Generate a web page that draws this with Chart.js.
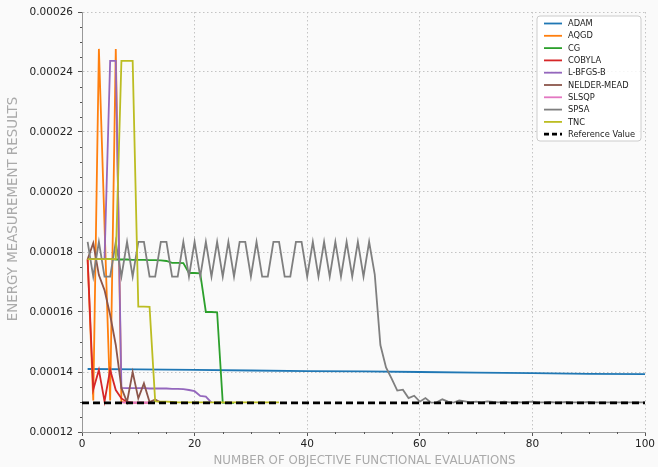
<!DOCTYPE html>
<html><head><meta charset="utf-8">
<script src="https://cdn.jsdelivr.net/npm/chart.js@4.4.0/dist/chart.umd.min.js"></script>
<style>html,body{margin:0;padding:0;background:#fafafa;overflow:hidden}#wrap{width:658px;height:467px;position:relative}</style>
</head><body><div id="wrap"><canvas id="c" width="658" height="467"></canvas></div>
<script>
// ---------- DATA ----------
const seriesNames = ['ADAM','AQGD','CG','COBYLA','L-BFGS-B','NELDER-MEAD','SLSQP','SPSA','TNC'];
const refLabel = 'Reference Value';
const xTicks = [0,20,40,60,80,100];
const yTicks = [0.00012,0.00014,0.00016,0.00018,0.00020,0.00022,0.00024,0.00026];

const adamEvals = [1,10,20,30,40,50,60,70,80,90,100];
const adam = [0.0001410,0.0001409,0.0001407,0.0001405,0.0001403,0.0001402,0.0001400,0.0001398,0.0001396,0.0001394,0.0001393];
const aqgd = [0.0001776,0.0001305,0.0002477,0.0001890,0.0001305,0.0002477,0.0001300,0.0001298];
const cg = [0.0001777,0.0001777,0.0001776,0.0001776,0.0001776,0.0001775,0.0001775,0.0001775,0.0001774,0.0001774,
            0.0001774,0.0001773,0.0001773,0.0001772,0.0001770,0.0001764,0.0001764,0.0001763,0.0001730,0.0001730,
            0.0001729,0.0001600,0.0001600,0.0001599,0.0001298,0.0001297,0.0001297];
const cobyla = [0.0001776,0.0001342,0.0001407,0.0001302,0.0001407,0.0001340,0.0001312,0.0001300,0.0001298,0.0001298,0.0001298,0.0001298];
const lbfgsb = [0.0001776,0.0001776,0.0001776,0.0001776,0.0002437,0.0002437,0.0001347,0.0001346,0.0001346,0.0001346,
                0.0001346,0.0001345,0.0001345,0.0001345,0.0001345,0.0001344,0.0001344,0.0001343,0.0001340,0.0001336,
                0.0001320,0.0001318,0.0001298];
const nelder = [0.0001776,0.0001830,0.0001723,0.0001673,0.0001590,0.0001490,0.0001347,0.0001300,0.0001400,0.0001312,
                0.0001362,0.0001300,0.0001308,0.0001298];
const slsqpEvals = [7,8,9,10,11,12];
const slsqp = [0.0001299,0.0001298,0.0001298,0.0001298,0.0001298,0.0001298];
const spsa = [0.0001834,0.0001718,0.0001834,0.0001718,0.0001718,0.0001834,0.0001718,0.0001834,0.0001718,0.0001834,
              0.0001834,0.0001718,0.0001718,0.0001834,0.0001834,0.0001718,0.0001718,0.0001834,0.0001718,0.0001834,
              0.0001718,0.0001834,0.0001718,0.0001834,0.0001718,0.0001834,0.0001718,0.0001834,0.0001834,0.0001718,
              0.0001834,0.0001718,0.0001718,0.0001834,0.0001834,0.0001718,0.0001718,0.0001834,0.0001834,0.0001718,
              0.0001834,0.0001718,0.0001834,0.0001718,0.0001834,0.0001718,0.0001834,0.0001718,0.0001834,0.0001718,
              0.0001834,0.0001725,0.0001490,0.0001415,0.0001378,0.0001338,0.0001341,0.0001313,0.0001321,0.0001301,
              0.0001313,0.0001298,0.0001299,0.0001309,0.0001301,0.0001298,0.0001305,0.0001302,0.0001299,0.0001301,
              0.0001299,0.0001302,0.0001300,0.0001299,0.0001301,0.0001299,0.0001300,0.0001299,0.0001300,0.0001301,
              0.0001299,0.0001299,0.0001300,0.0001299,0.0001299,0.0001300,0.0001299,0.0001299,0.0001299,0.0001300,
              0.0001299,0.0001299,0.0001299,0.0001299,0.0001299,0.0001299,0.0001299,0.0001299,0.0001299,0.0001299];
const tnc = [0.0001776,0.0001776,0.0001776,0.0001776,0.0001776,0.0001776,0.0002437,0.0002437,0.0002437,0.0001618,
             0.0001618,0.0001617,0.0001302,0.0001301,0.0001301,0.0001300,0.0001299,0.0001299,0.0001299,0.0001299,
             0.0001299,0.0001299,0.0001299,0.0001299,0.0001299,0.0001299,0.0001299,0.0001299,0.0001299,0.0001299,
             0.0001299,0.0001299,0.0001299,0.0001299,0.0001299];
const refEvals = [0,100];
const refValue = [0.0001297,0.0001297];

// ---------- STYLE ----------
const colors = ['#1f77b4','#ff7f0e','#2ca02c','#d62728','#9467bd','#8c564b','#e377c2','#7f7f7f','#bcbd22'];
const FONT = 'DejaVu Sans';

function pts(xs, ys){ return ys.map((v,i)=>({x: xs ? xs[i] : i+1, y: v})); }
const seriesData = [pts(adamEvals,adam), pts(null,aqgd), pts(null,cg), pts(null,cobyla), pts(null,lbfgsb),
                    pts(null,nelder), pts(slsqpEvals,slsqp), pts(null,spsa), pts(null,tnc)];

const N = seriesNames.length;
const datasets = seriesNames.map((n,i)=>({
  label:n, data:seriesData[i], borderColor:colors[i], backgroundColor:colors[i],
  borderWidth:1.8, pointRadius:0, fill:false, tension:0, order: N - i + 1
}));
datasets.push({label:refLabel, data:pts(refEvals,refValue), borderColor:'#000', borderWidth:2.8,
  borderDash:[7,4], pointRadius:0, fill:false, order:0});

const yMinor = 0.000005, xMinor = 5;

const extras = {
  id:'extras',
  beforeDraw(chart){
    const ctx = chart.ctx; ctx.save(); ctx.fillStyle='#fafafa'; ctx.fillRect(0,0,chart.width,chart.height); ctx.restore();
  },
  afterDraw(chart){
    const ctx = chart.ctx, a = chart.chartArea, xs = chart.scales.x, ys = chart.scales.y;
    ctx.save();
    // minor ticks
    ctx.strokeStyle = '#555'; ctx.lineWidth = 1;
    for(let i=0;i<=28;i++){ if(i%4===0) continue;
      const py = Math.round(ys.getPixelForValue(yTicks[0] + i*yMinor)) + 0.5;
      ctx.beginPath(); ctx.moveTo(a.left-2, py); ctx.lineTo(a.left, py); ctx.stroke(); }
    for(let i=0;i<=20;i++){ if(i%4===0) continue;
      const px = Math.round(xs.getPixelForValue(i*xMinor)) + 0.5;
      ctx.beginPath(); ctx.moveTo(px, a.bottom); ctx.lineTo(px, a.bottom+2); ctx.stroke(); }
    // axis titles
    ctx.fillStyle = '#aaaaaa';
    ctx.textAlign='center'; ctx.textBaseline='middle';
    ctx.font = '11.8px "'+FONT+'"';
    ctx.fillText('NUMBER OF OBJECTIVE FUNCTIONAL EVALUATIONS', (a.left+a.right)/2 + 1, 461);
    ctx.font = '13.4px "'+FONT+'"';
    ctx.save(); ctx.translate(13.5, 209); ctx.rotate(-Math.PI/2);
    ctx.fillText('ENERGY MEASUREMENT RESULTS', 0, 0); ctx.restore();
    // legend
    const lx = 537, ly = 16, lw = 104, lh = 125, r = 3;
    ctx.beginPath();
    ctx.moveTo(lx+r,ly); ctx.lineTo(lx+lw-r,ly); ctx.quadraticCurveTo(lx+lw,ly,lx+lw,ly+r);
    ctx.lineTo(lx+lw,ly+lh-r); ctx.quadraticCurveTo(lx+lw,ly+lh,lx+lw-r,ly+lh);
    ctx.lineTo(lx+r,ly+lh); ctx.quadraticCurveTo(lx,ly+lh,lx,ly+lh-r);
    ctx.lineTo(lx,ly+r); ctx.quadraticCurveTo(lx,ly,lx+r,ly); ctx.closePath();
    ctx.fillStyle='rgba(255,255,255,0.85)'; ctx.fill();
    ctx.strokeStyle='#cccccc'; ctx.lineWidth=1; ctx.stroke();
    ctx.font = '8.3px "'+FONT+'"'; ctx.textAlign='left'; ctx.textBaseline='middle';
    chart.data.datasets.forEach((d,k)=>{
      const yy = 23.5 + k*12.3;
      ctx.beginPath(); ctx.strokeStyle = d.borderColor; ctx.lineWidth = d.borderWidth;
      ctx.setLineDash(d.borderDash ? [5,3] : []);
      ctx.moveTo(544, yy); ctx.lineTo(562, yy); ctx.stroke(); ctx.setLineDash([]);
      ctx.fillStyle='#222'; ctx.fillText(d.label, 568, yy+0.5);
    });
    ctx.restore();
  }
};

new Chart(document.getElementById('c'), {
  type:'line',
  data:{datasets},
  options:{
    responsive:false, animation:false, devicePixelRatio:1,
    layout:{padding:{left:0,right:13,top:12,bottom:0}},
    plugins:{legend:{display:false}, tooltip:{enabled:false}},
    scales:{
      x:{type:'linear', min:xTicks[0], max:xTicks[xTicks.length-1],
         afterBuildTicks(s){ s.ticks = xTicks.map(v=>({value:v})); },
         afterFit(s){ s.height = 35; },
         ticks:{color:'#222', font:{family:FONT,size:10.5}, padding:2, maxRotation:0, autoSkip:false},
         grid:{color:'#c4c4c4', lineWidth:1, tickLength:4, tickColor:'#555'},
         border:{display:true, color:'#999', width:1, dash:[1.5,2.5]}},
      y:{type:'linear', min:yTicks[0], max:yTicks[yTicks.length-1],
         afterBuildTicks(s){ s.ticks = yTicks.map(v=>({value:v})); },
         afterFit(s){ s.width = 82; },
         ticks:{color:'#222', font:{family:FONT,size:10.5}, padding:5, autoSkip:false, callback:v=>v.toFixed(5)},
         grid:{color:'#c4c4c4', lineWidth:1, tickLength:4, tickColor:'#555'},
         border:{display:true, color:'#999', width:1, dash:[1.5,2.5]}}
    }
  },
  plugins:[extras]
});
</script></body></html>
